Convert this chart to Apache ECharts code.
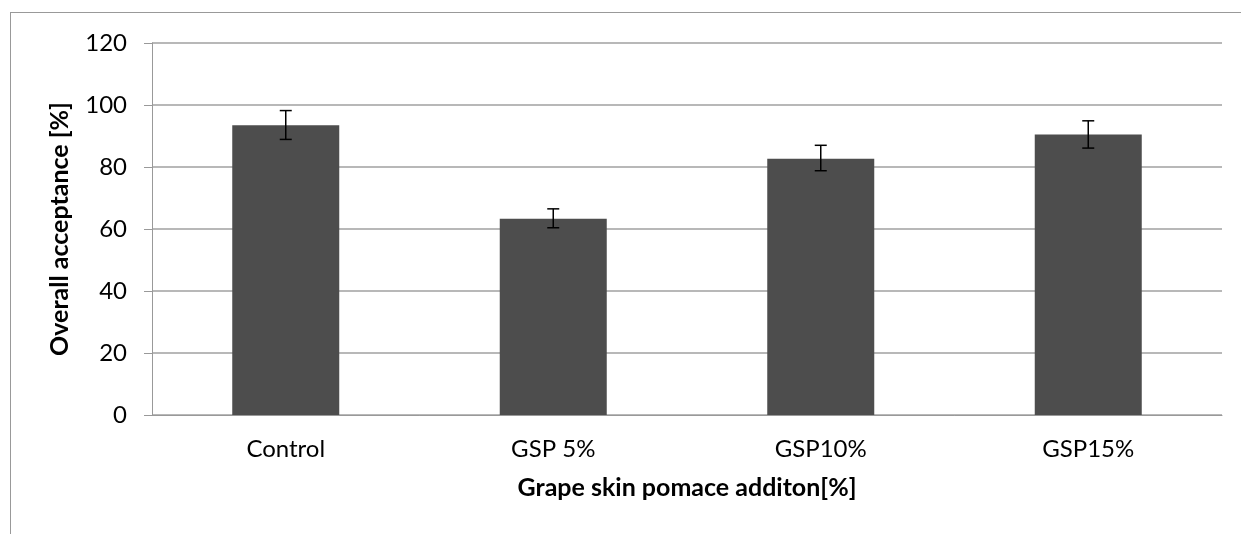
<!DOCTYPE html>
<html><head><meta charset="utf-8">
<script src="https://cdn.jsdelivr.net/npm/echarts@6/dist/echarts.min.js"></script>
<style>html,body{margin:0;padding:0;background:#fff}#c{width:1241px;height:534px}
#frame{position:absolute;left:10px;top:12px;width:1240px;height:530px;border-left:1px solid #999;border-top:1px solid #999;pointer-events:none}</style>
</head><body><div id="c"></div><div id="frame"></div>
<script>
const categories = ['Control', 'GSP 5%', 'GSP10%', 'GSP15%'];
const values = [93.5, 63.3, 82.7, 90.5];
const errLow = [88.9, 60.4, 78.8, 86.1];
const errHigh = [98.2, 66.5, 87.0, 94.9];
const yTicks = [0, 20, 40, 60, 80, 100, 120];

const chart = echarts.init(document.getElementById('c'));
const font = 'Lato, "Open Sans", sans-serif';
chart.setOption({
  animation: false,
  grid: {left: 152, right: 19, top: 43, bottom: 119},
  xAxis: {
    type: 'category', data: categories,
    axisLine: {show: true, lineStyle: {color: '#999', width: 1}},
    axisTick: {show: false},
    axisLabel: {color: '#000', fontSize: 24, fontFamily: font, margin: 22},
    name: 'Grape skin pomace additon[%]', nameLocation: 'middle', nameGap: 60,
    nameTextStyle: {color: '#000', fontSize: 25, fontWeight: 'bold', fontFamily: font}
  },
  yAxis: {
    type: 'value', min: yTicks[0], max: yTicks[yTicks.length - 1], interval: 20,
    axisLine: {show: true, lineStyle: {color: '#999', width: 1}},
    axisTick: {show: true, length: 8, lineStyle: {color: '#999'}},
    splitLine: {lineStyle: {color: '#a0a0a0', width: 1.5}},
    axisLabel: {color: '#000', fontSize: 24, fontFamily: font, margin: 25},
    name: 'Overall acceptance [%]', nameLocation: 'middle', nameGap: 80, nameRotate: 90,
    nameTextStyle: {color: '#000', fontSize: 25, fontWeight: 'bold', fontFamily: font}
  },
  series: [{
    type: 'bar', data: values, barWidth: '40%',
    itemStyle: {color: '#4d4d4d'}
  }, {
    type: 'custom', z: 10,
    data: categories.map((c, i) => [i, errLow[i], errHigh[i]]),
    renderItem: function (params, api) {
      const x = api.value(0);
      const lo = api.coord([x, api.value(1)]);
      const hi = api.coord([x, api.value(2)]);
      const hw = 6;
      const st = {stroke: '#000', lineWidth: 1.5};
      return {type: 'group', children: [
        {type: 'line', shape: {x1: lo[0], y1: lo[1], x2: hi[0], y2: hi[1]}, style: st},
        {type: 'line', shape: {x1: lo[0] - hw, y1: lo[1], x2: lo[0] + hw, y2: lo[1]}, style: st},
        {type: 'line', shape: {x1: hi[0] - hw, y1: hi[1], x2: hi[0] + hw, y2: hi[1]}, style: st}
      ]};
    }
  }]
});
</script></body></html>
